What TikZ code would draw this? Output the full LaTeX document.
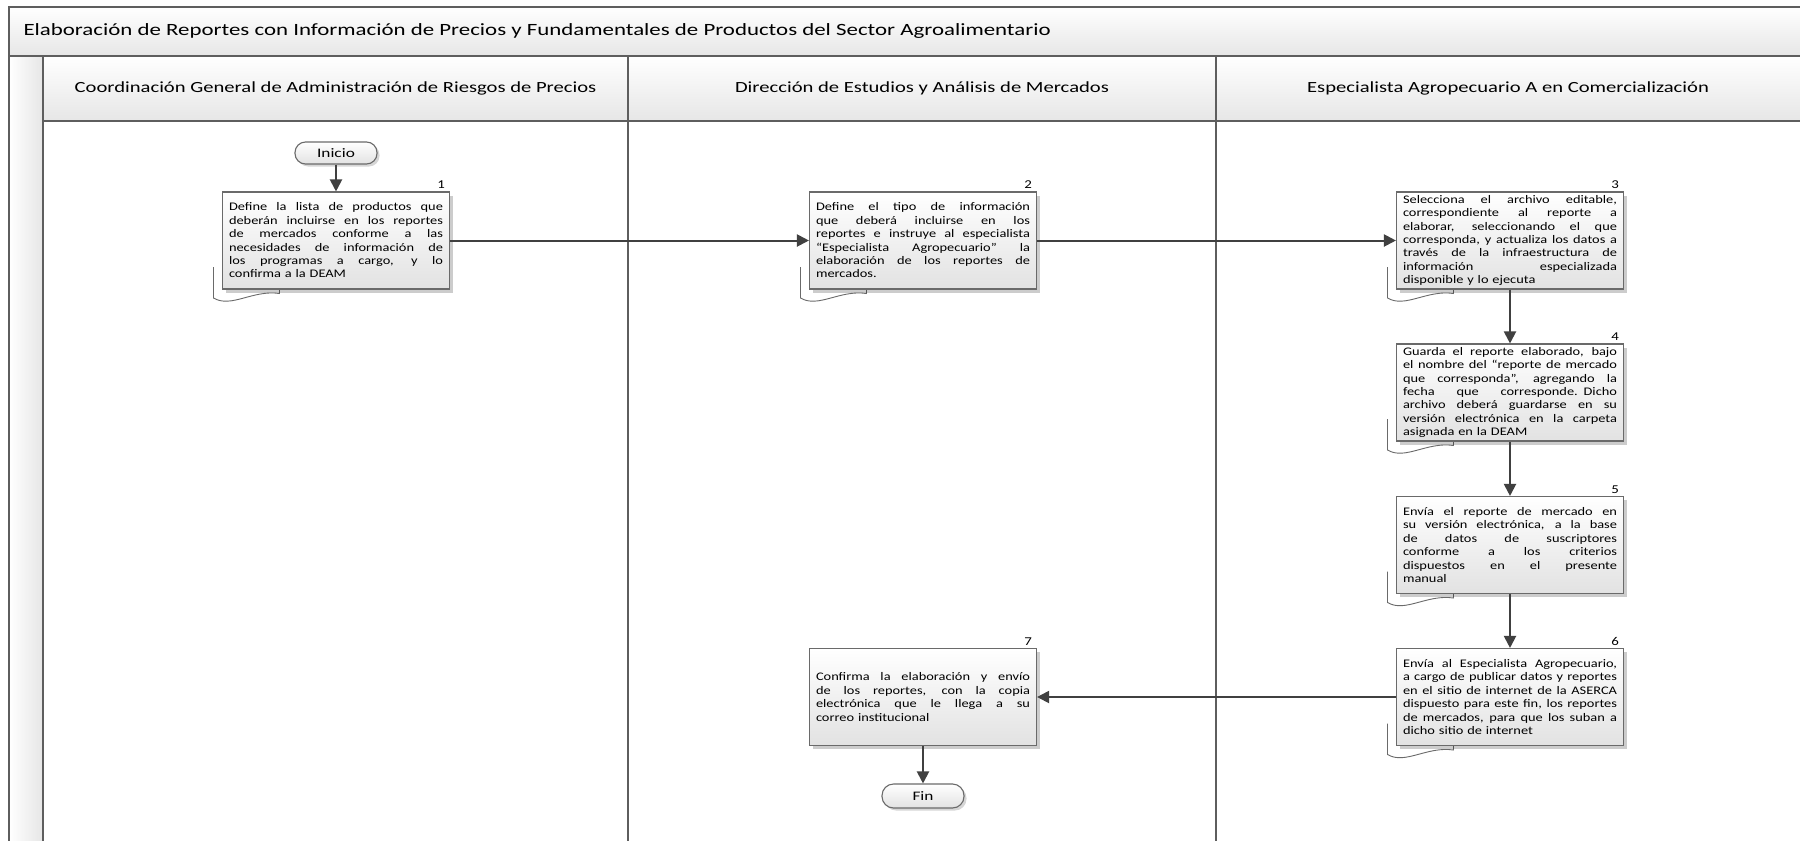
\documentclass[tikz,border=0pt]{standalone}
\usepackage{fontspec}
\setmainfont{Carlito}[FakeStretch=1.33]
\newfontfamily\boxfont{Carlito}[FakeStretch=1.24]
\usetikzlibrary{arrows.meta,shadows}

\definecolor{frameline}{HTML}{5E5E5E}
\definecolor{boxline}{HTML}{6A6A6A}
\definecolor{flowline}{HTML}{404040}
\definecolor{bandlow}{HTML}{E6E6E6}
\definecolor{boxlow}{HTML}{E2E2E2}

% every text line of a process box is set as a box of fixed width
\newlength{\boxtextwd}
\setlength{\boxtextwd}{214pt}
\newcommand{\jline}[1]{\hbox to \boxtextwd{\spaceskip=\fontdimen2\font plus 1fil\relax #1}}
\newcommand{\lline}[1]{\hbox to \boxtextwd{#1\hfil}}

\tikzset{
  band/.style={top color=white, bottom color=bandlow, draw=frameline, line width=1.6pt},
  lanehead/.style={font=\fontsize{15.5}{18}\selectfont, text=black},
  proc/.style={draw=boxline, line width=1.1pt, top color=white, bottom color=boxlow,
    minimum width=227pt, minimum height=97pt, text width=\boxtextwd, inner sep=0pt,
    font=\boxfont\fontsize{11.6}{13.4}\selectfont,
    drop shadow={shadow xshift=3.5pt, shadow yshift=-3.5pt, fill=black, opacity=0.2}},
  term/.style={draw=boxline, line width=1.1pt, rounded corners=10.5pt, top color=white, bottom color=boxlow,
    minimum width=82pt, minimum height=22pt, inner sep=0pt, font=\fontsize{13}{15}\selectfont,
    drop shadow={shadow xshift=2.5pt, shadow yshift=-2.5pt, fill=black, opacity=0.16}},
  numlbl/.style={font=\boxfont\fontsize{12}{13}\selectfont, inner sep=0pt, anchor=south east},
  doctab/.style={draw=boxline, line width=0.9pt, fill=white},
  flow/.style={draw=flowline, line width=2pt, -{Triangle[length=12pt,width=12pt]}},
}

% a document tab peeking out under the lower left corner of the box centred at #1
\newcommand{\tabunder}[1]{%
  \begin{scope}[shift={(#1)}]
    \draw[doctab] (-122.5,26.5) -- (-122.5,57.5) .. controls (-105,68) and (-83,49) .. (-56.5,53) -- (-56.5,26.5);
  \end{scope}}

\begin{document}
\begin{tikzpicture}[x=1pt,y=-1pt]
\useasboundingbox (0,0) rectangle (1800,841);
\fill[white] (0,0) rectangle (1800,841);

% pool frame: title band, lane headers, side strip and lane dividers
\begin{scope}
\clip (0,0) rectangle (1800,841);
\path[band] (9,7) rectangle (1810,56);
\node[anchor=west, font=\fontsize{17.2}{20}\selectfont] (title) at (20,31)
  {Elaboración de Reportes con Información de Precios y Fundamentales de Productos del Sector Agroalimentario};
\path[left color=white, right color=bandlow, draw=frameline, line width=1.6pt] (9,56) rectangle (43,850);
\path[band] (43,56) rectangle (628,121);
\path[band] (628,56) rectangle (1216,121);
\path[band] (1216,56) rectangle (1810,121);
\draw[frameline, line width=1.6pt] (628,121) -- (628,850);
\draw[frameline, line width=1.6pt] (1216,121) -- (1216,850);
\end{scope}

\node[lanehead] (h1) at (335.5,88.5) {Coordinación General de Administración de Riesgos de Precios};
\node[lanehead] (h2) at (922,88.5) {Dirección de Estudios y Análisis de Mercados};
\node[lanehead] (h3) at (1508,88.5) {Especialista Agropecuario A en Comercialización};

% box centres
\coordinate (c1) at (336,240.5);
\coordinate (c2) at (923,240.5);
\coordinate (c3) at (1510,240.5);
\coordinate (c4) at (1510,392.5);
\coordinate (c5) at (1510,545);
\coordinate (c6) at (1510,697);
\coordinate (c7) at (923,697);

\tabunder{c1}
\tabunder{c2}
\tabunder{c3}
\tabunder{c4}
\tabunder{c5}
\tabunder{c6}

% process boxes
\node[proc] (B1) at (c1) {%
  \jline{Define la lista de productos que}
  \jline{deberán incluirse en los reportes}
  \jline{de mercados conforme a las}
  \jline{necesidades de información de}
  \jline{los programas a cargo, y lo}
  \lline{confirma a la DEAM}};
\node[proc] (B2) at (c2) {%
  \jline{Define el tipo de información}
  \jline{que deberá incluirse en los}
  \jline{reportes e instruye al especialista}
  \jline{“Especialista Agropecuario” la}
  \jline{elaboración de los reportes de}
  \lline{mercados.}};
\node[proc] (B3) at (c3) {%
  \jline{Selecciona el archivo editable,}
  \jline{correspondiente al reporte a}
  \jline{elaborar, seleccionando el que}
  \jline{corresponda, y actualiza los datos a}
  \jline{través de la infraestructura de}
  \jline{información especializada}
  \lline{disponible y lo ejecuta}};
\node[proc] (B4) at (c4) {%
  \jline{Guarda el reporte elaborado, bajo}
  \jline{el nombre del “reporte de mercado}
  \jline{que corresponda”, agregando la}
  \jline{fecha que corresponde. Dicho}
  \jline{archivo deberá guardarse en su}
  \jline{versión electrónica en la carpeta}
  \lline{asignada en la DEAM}};
\node[proc] (B5) at (c5) {%
  \jline{Envía el reporte de mercado en}
  \jline{su versión electrónica, a la base}
  \jline{de datos de suscriptores}
  \jline{conforme a los criterios}
  \jline{dispuestos en el presente}
  \lline{manual}};
\node[proc] (B6) at (c6) {%
  \jline{Envía al Especialista Agropecuario,}
  \jline{a cargo de publicar datos y reportes}
  \jline{en el sitio de internet de la ASERCA}
  \jline{dispuesto para este fin, los reportes}
  \jline{de mercados, para que los suban a}
  \lline{dicho sitio de internet}};
\node[proc] (B7) at (c7) {%
  \jline{Confirma la elaboración y envío}
  \jline{de los reportes, con la copia}
  \jline{electrónica que le llega a su}
  \lline{correo institucional}};

% step numbers
\node[numlbl] (n1) at ([xshift=-5pt,yshift=2.5pt]B1.north east) {1};
\node[numlbl] (n2) at ([xshift=-5pt,yshift=2.5pt]B2.north east) {2};
\node[numlbl] (n3) at ([xshift=-5pt,yshift=2.5pt]B3.north east) {3};
\node[numlbl] (n4) at ([xshift=-5pt,yshift=2.5pt]B4.north east) {4};
\node[numlbl] (n5) at ([xshift=-5pt,yshift=2.5pt]B5.north east) {5};
\node[numlbl] (n6) at ([xshift=-5pt,yshift=2.5pt]B6.north east) {6};
\node[numlbl] (n7) at ([xshift=-5pt,yshift=2.5pt]B7.north east) {7};

% start and end
\node[term] (inicio) at (336,153) {Inicio};
\node[term, minimum height=24pt, rounded corners=11.5pt] (fin) at (923,796) {Fin};

% connectors
\draw[flow] (inicio) -- (B1);
\draw[flow] (B1) -- (B2);
\draw[flow] (B2) -- (B3);
\draw[flow] (B3) -- (B4);
\draw[flow] (B4) -- (B5);
\draw[flow] (B5) -- (B6);
\draw[flow] (B6) -- (B7);
\draw[flow] (B7) -- (fin);
\end{tikzpicture}
\end{document}
